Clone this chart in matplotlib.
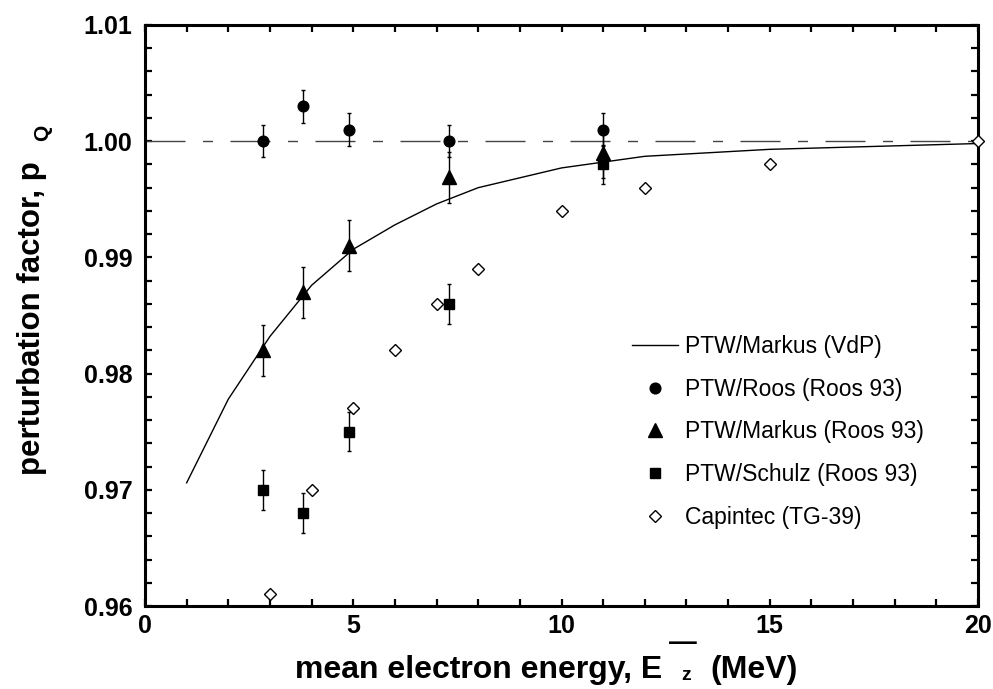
import numpy as np
import matplotlib
matplotlib.use("Agg")
import matplotlib.pyplot as plt
from matplotlib.ticker import MultipleLocator
from matplotlib.lines import Line2D

plt.rcParams["font.family"] = ["Liberation Sans", "DejaVu Sans"]

# Data
vdp_e = [1, 2, 3, 4, 5, 6, 7, 8, 10, 12, 15, 20]
vdp_p = [0.9706, 0.9778, 0.9832, 0.9876, 0.9907, 0.9928, 0.9946, 0.9960,
         0.9977, 0.9987, 0.9993, 0.9998]

roos_e = [2.83, 3.8, 4.9, 7.31, 11.0]
roos_p = [1.000, 1.003, 1.001, 1.000, 1.001]
roos_err = [0.0014, 0.0014, 0.0014, 0.0014, 0.0014]

markus_e = [2.83, 3.8, 4.9, 7.31, 11.0]
markus_p = [0.9820, 0.9870, 0.9910, 0.9969, 0.9990]
markus_err = [0.0022, 0.0022, 0.0022, 0.0022, 0.0022]

schulz_e = [2.83, 3.8, 4.9, 7.31, 11.0]
schulz_p = [0.9700, 0.9680, 0.9750, 0.9860, 0.9980]
schulz_err = [0.0017, 0.0017, 0.0017, 0.0017, 0.0017]

capintec_e = [3, 4, 5, 6, 7, 8, 10, 12, 15, 20]
capintec_p = [0.961, 0.970, 0.977, 0.982, 0.986, 0.989, 0.994, 0.996, 0.998, 1.000]

unity_e = [0, 20]
unity_p = [1.0, 1.0]

labels = ["PTW/Markus (VdP)", "PTW/Roos (Roos 93)", "PTW/Markus (Roos 93)",
          "PTW/Schulz (Roos 93)", "Capintec (TG-39)"]

fig = plt.figure(figsize=(9.93, 6.89), dpi=100)
ax = fig.add_axes([145 / 993, 83 / 689, 833 / 993, 581 / 689])

# reference line at 1.00 (long-short dash)
ax.plot(unity_e, unity_p, color="#444444", lw=1.0, dashes=(28.8, 12.6, 7.2, 12.6))

ax.plot(vdp_e, vdp_p, color="black", lw=1.0)

ekw = dict(ls="none", color="black", ecolor="black", elinewidth=1.0,
           capsize=1.5, capthick=1.0)
ax.errorbar(roos_e, roos_p, yerr=roos_err, marker="o", ms=7.7, **ekw)
ax.errorbar(markus_e, markus_p, yerr=markus_err, marker="^", ms=9.5, **ekw)
ax.errorbar(schulz_e, schulz_p, yerr=schulz_err, marker="s", ms=7.7, **ekw)
ax.plot(capintec_e, capintec_p, ls="none", marker="D", ms=6.3, mfc="white",
        mec="black", mew=1.0, clip_on=False, zorder=5)

ax.set_xlim(0, 20)
ax.set_ylim(0.96, 1.01)
ax.xaxis.set_major_locator(MultipleLocator(5))
ax.xaxis.set_minor_locator(MultipleLocator(1))
ax.yaxis.set_major_locator(MultipleLocator(0.01))
ax.yaxis.set_minor_locator(MultipleLocator(0.002))
ax.xaxis.set_major_formatter(plt.FuncFormatter(lambda v, p: f"{v:.0f}"))
ax.yaxis.set_major_formatter(plt.FuncFormatter(lambda v, p: f"{v:.2f}"))

for s in ax.spines.values():
    s.set_linewidth(2.2)
ax.tick_params(which="both", direction="in", top=True, right=True,
               length=5, width=1.6)
ax.tick_params(axis="x", which="major", pad=6)
ax.tick_params(axis="y", which="major", pad=9)
for lab in ax.get_xticklabels() + ax.get_yticklabels():
    lab.set_fontsize(18)
    lab.set_fontweight("bold")

# axis titles (E-bar_z and p_Q drawn as separate pieces like the original)
W, H = 993, 689
fig.text(662 / W, 1 - 678 / H, "mean electron energy, E", ha="right",
         va="baseline", fontsize=23, fontweight="bold")
fig.text(683 / W, 1 - 643 / H, "\u2014", ha="center", va="center",
         fontsize=20, fontweight="bold")
fig.text(686 / W, 1 - 676 / H, "z", ha="center", va="center",
         fontsize=14, fontweight="bold")
fig.text(710 / W, 1 - 678 / H, "(MeV)", ha="left", va="baseline",
         fontsize=23, fontweight="bold")

fig.text(32 / W, 1 - 318 / H, "perturbation factor, p", rotation=90,
         ha="center", va="center", fontsize=22.5, fontweight="bold")
fig.text(43 / W, 1 - 133 / H, "Q", rotation=90, ha="center", va="center",
         fontsize=15, fontweight="bold")

handles = [
    Line2D([], [], color="black", lw=1.0),
    Line2D([], [], ls="none", marker="o", ms=7.7, color="black"),
    Line2D([], [], ls="none", marker="^", ms=9.5, color="black"),
    Line2D([], [], ls="none", marker="s", ms=7.7, color="black"),
    Line2D([], [], ls="none", marker="D", ms=6.3, mfc="white", mec="black", mew=1.0),
]
ax.legend(handles, labels, loc="upper left", bbox_to_anchor=(632 / W, 1 - 335 / H),
          bbox_transform=fig.transFigure, frameon=False, fontsize=16.5,
          handlelength=2.0, handletextpad=0.3, labelspacing=0.86,
          borderpad=0, borderaxespad=0)

fig.savefig("out.png", dpi=100)
